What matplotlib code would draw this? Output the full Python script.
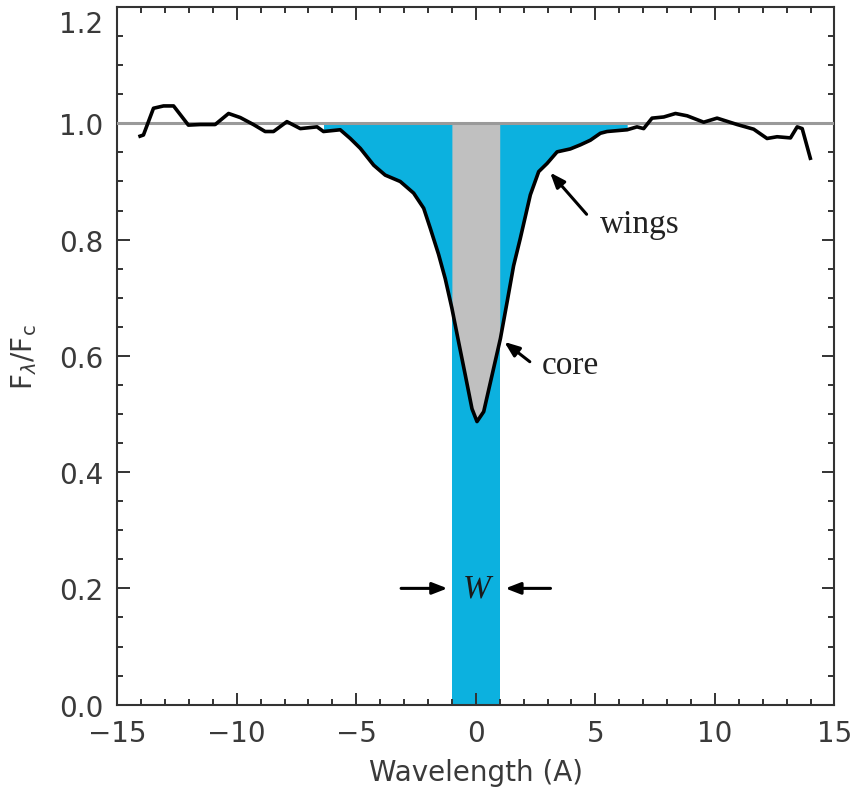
import numpy as np
import matplotlib.pyplot as plt
from matplotlib.transforms import ScaledTranslation

# normalised line profile, wavelength offset from line centre (A)
wavelength = [-14.04, -13.9, -13.48, -13.06, -12.64, -12.02, -11.53, -10.9, -10.34, -9.85,
              -9.30, -8.81, -8.46, -7.90, -7.34, -6.64, -6.37, -5.67, -5.25, -4.83,
              -4.27, -3.79, -3.16, -2.60, -2.18, -1.90, -1.56, -1.28, -1.0, -0.72,
              -0.44, -0.16, 0.05, 0.33, 0.68, 1.03, 1.31, 1.58, 1.86, 2.28,
              2.63, 2.98, 3.40, 3.95, 4.37, 4.79, 5.21, 5.49, 6.33, 6.74,
              7.02, 7.37, 7.86, 8.35, 8.84, 9.53, 10.09, 10.93, 11.62, 12.18,
              12.6, 13.16, 13.44, 13.65, 13.99]
flux = [0.978, 0.980, 1.026, 1.030, 1.030, 0.997, 0.998, 0.998, 1.017, 1.010,
        0.998, 0.986, 0.986, 1.003, 0.991, 0.994, 0.986, 0.989, 0.974, 0.957,
        0.928, 0.911, 0.900, 0.880, 0.854, 0.819, 0.775, 0.733, 0.682, 0.624,
        0.567, 0.509, 0.487, 0.504, 0.567, 0.630, 0.693, 0.755, 0.802, 0.877,
        0.917, 0.931, 0.951, 0.956, 0.963, 0.971, 0.983, 0.986, 0.989, 0.994,
        0.991, 1.009, 1.011, 1.017, 1.013, 1.002, 1.009, 0.998, 0.990, 0.974,
        0.977, 0.975, 0.994, 0.991, 0.940]

continuum = 1.0
equiv_width = 2.0
wing_limit = 6.6

BLUE = "#0cb1df"
GREY = "#c0c0c0"
AXIS = "#333333"
ARROW = dict(arrowstyle="-|>,head_length=0.9,head_width=0.35", color="black", lw=2.2)

x = np.array(wavelength)
y = np.array(flux)

fig = plt.figure(figsize=(8.55, 8.12), dpi=100)
ax = fig.add_axes([0.137, 0.131, 0.839, 0.859])

# absorbed flux in the wings
in_line = (x > -wing_limit) & (x < wing_limit)
ax.fill_between(x, np.minimum(y, continuum), continuum, where=in_line,
                color=BLUE, linewidth=0, zorder=1)

# equivalent-width box
ax.bar(0, continuum, width=equiv_width, bottom=0, color=BLUE, linewidth=0, zorder=1)

# line core inside the box
xc = np.linspace(-equiv_width / 2, equiv_width / 2, 200)
ax.fill_between(xc, np.interp(xc, x, y), continuum, color=GREY, linewidth=0, zorder=2)

ax.axhline(continuum, color="#9a9a9a", linewidth=2.2, zorder=3)
ax.plot(x, y, color="black", linewidth=2.6, zorder=4, solid_joinstyle="round")

# labels
serif = "Liberation Serif"
ax.annotate("", xy=(3.03, 0.919), xytext=(4.71, 0.840), arrowprops=ARROW, zorder=5)
ax.text(5.2, 0.828, "wings", family=serif, fontsize=24, color="#222222",
        ha="left", va="center")

ax.annotate("", xy=(1.1, 0.627), xytext=(2.35, 0.587), arrowprops=ARROW, zorder=5)
ax.text(2.75, 0.585, "core", family=serif, fontsize=24, color="#222222",
        ha="left", va="center")

ax.annotate("", xy=(-1.07, 0.2), xytext=(-3.24, 0.2), arrowprops=ARROW, zorder=5)
ax.annotate("", xy=(1.12, 0.2), xytext=(3.24, 0.2), arrowprops=ARROW, zorder=5)
ax.text(0.02, 0.2, "W", family=serif, style="italic", fontsize=24,
        color="#1a1a1a", ha="center", va="center", zorder=5)

# axes
ax.set_xlim(-15, 15)
ax.set_ylim(0, 1.2)
ax.set_xticks(np.arange(-15, 16, 5))
ax.set_xticks(np.arange(-15, 16, 1), minor=True)
yticks = np.arange(0, 1.21, 0.2)
ax.set_yticks(yticks)
ax.set_yticks(np.arange(0, 1.21, 0.05), minor=True)
ax.set_yticklabels([f"{v:.1f}" for v in yticks])

ax.tick_params(which="both", direction="in", top=True, right=True,
               color=AXIS, width=1.4, labelsize=20, labelcolor="#3a3a3a")
ax.tick_params(which="major", length=9, pad=10)
ax.tick_params(which="minor", length=4.5)
for side in ax.spines.values():
    side.set_color(AXIS)
    side.set_linewidth(1.5)

# keep the top label inside the figure
top_label = ax.get_yticklabels()[-1]
top_label.set_transform(top_label.get_transform()
                        + ScaledTranslation(0, -10 / 72, fig.dpi_scale_trans))

ax.set_xlabel("Wavelength (A)", fontsize=20, color="#3a3a3a", labelpad=8)
ax.set_ylabel(r"F$_\lambda$/F$_\mathrm{c}$", fontsize=20, color="#3a3a3a", labelpad=14)

fig.savefig("out.png", dpi=100)
